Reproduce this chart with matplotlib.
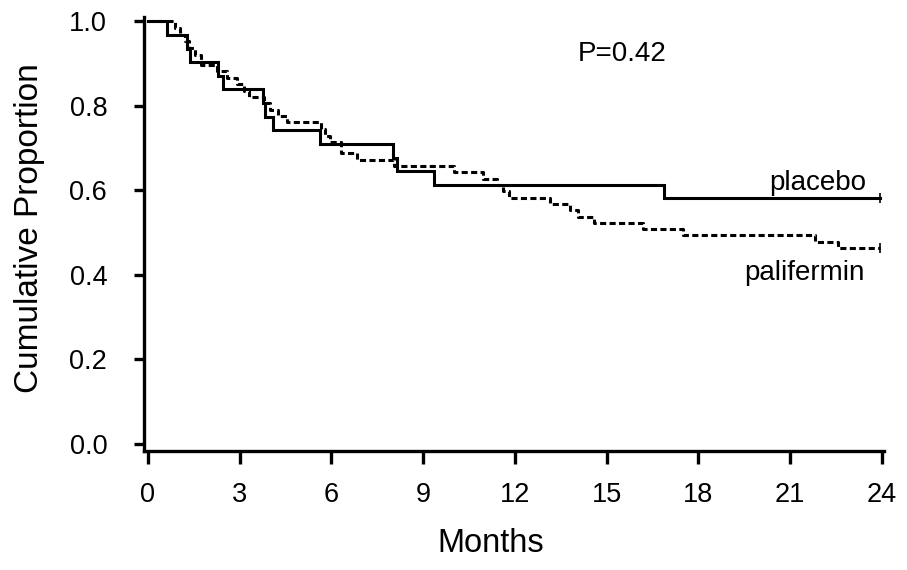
import matplotlib
matplotlib.use("Agg")
import matplotlib.pyplot as plt

plt.rcParams['font.family'] = ['Liberation Sans', 'DejaVu Sans']

# Placebo (solid) step function: event times (months) and survival after each step
placebo_t = [0, 0.61, 1.27, 1.37, 2.30, 2.46, 3.77, 3.82, 4.10, 5.62, 8.00, 8.13, 9.35, 16.87, 23.95]
placebo_s = [1.0, 0.968, 0.935, 0.903, 0.871, 0.839, 0.806, 0.774, 0.742, 0.710, 0.677, 0.645, 0.613, 0.581, 0.581]

# Palifermin (dotted) step function
pali_t = [0, 0.90, 1.05, 1.20, 1.35, 1.55, 1.75, 2.25, 2.60, 2.90, 3.15, 3.30, 3.80, 4.00,
          4.25, 4.55, 5.65, 5.80, 5.95, 6.30, 6.85, 8.05, 10.00, 10.95, 11.40, 11.60, 11.80,
          13.15, 13.80, 14.05, 14.60, 16.20, 17.50, 21.80, 22.55, 23.95]
pali_s = [1.0, 0.984, 0.968, 0.952, 0.936, 0.920, 0.897, 0.881, 0.866, 0.850, 0.835, 0.820, 0.805, 0.790,
          0.776, 0.762, 0.745, 0.729, 0.713, 0.687, 0.671, 0.656, 0.642, 0.626, 0.611, 0.597, 0.582,
          0.567, 0.552, 0.537, 0.522, 0.507, 0.494, 0.478, 0.463, 0.463]

xticks = [0, 3, 6, 9, 12, 15, 18, 21, 24]
yticks = [0.0, 0.2, 0.4, 0.6, 0.8, 1.0]
ytick_labels = ["0.0", "0.2", "0.4", "0.6", "0.8", "1.0"]

fig = plt.figure(figsize=(9.07, 5.70), dpi=100)
ax = fig.add_axes([144/907, 1-451/570, 740/907, (451-16.8)/570])

ax.step(placebo_t, placebo_s, where='post', color='black', lw=2.2, solid_joinstyle='miter')
ax.step(pali_t, pali_s, where='post', color='black', lw=2.2, linestyle=(0, (2.0, 1.1)))
# censor ticks at the end
ax.plot([placebo_t[-1]], [placebo_s[-1]], marker='|', color='black', ms=7, mew=1.2)
ax.plot([pali_t[-1]], [pali_s[-1]], marker='|', color='black', ms=7, mew=1.2)

ax.set_xlim(-0.13, 24.07)
ax.set_ylim(-0.017, 1.01)
ax.set_xticks(xticks)
ax.set_xticklabels([str(v) for v in xticks])
ax.set_yticks(yticks)
ax.set_yticklabels(ytick_labels)

for s in ['top', 'right']:
    ax.spines[s].set_visible(False)
for s in ['left', 'bottom']:
    ax.spines[s].set_linewidth(2.4)

ax.tick_params(axis='both', direction='out', width=2.4, labelsize=19.5, colors='black')
ax.tick_params(axis='x', length=9, pad=13)
ax.tick_params(axis='y', length=7.5, pad=19)

fig.text(491/907, 1-543/570, "Months", fontsize=23.5, ha='center', va='center')
fig.text(30/907, 1-228/570, "Cumulative Proportion", fontsize=24, ha='center', va='center',
         rotation=90)

ax.text(15.5, 0.922, "P=0.42", fontsize=20, ha='center', va='center')
ax.text(21.91, 0.618, "placebo", fontsize=20, ha='center', va='center')
ax.text(21.47, 0.403, "palifermin", fontsize=20, ha='center', va='center')

fig.savefig("out.png", dpi=100)
